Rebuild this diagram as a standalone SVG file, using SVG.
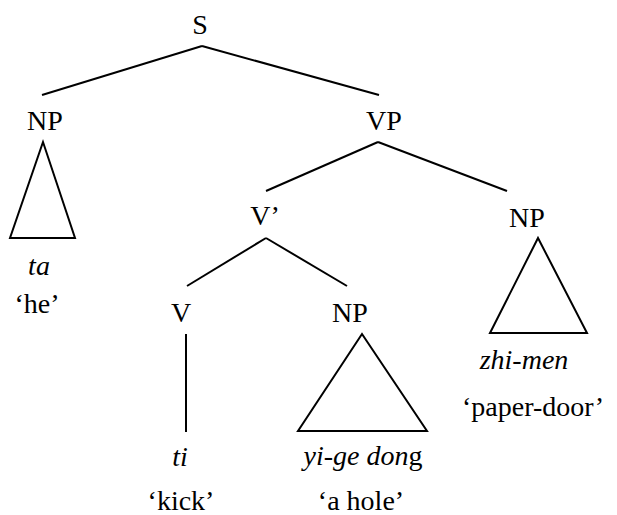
<svg xmlns="http://www.w3.org/2000/svg" width="617" height="515" viewBox="0 0 617 515">
<style>
text{font-family:"Liberation Serif","Times New Roman",serif;font-size:28px;fill:#000;text-anchor:middle}
.i{font-style:italic}
.e{stroke:#000;stroke-width:2;fill:none}
</style>
<rect width="617" height="515" fill="#fff"/>
<g id="connectors">
<line class="e" x1="202" y1="46" x2="42" y2="95"/>
<line class="e" x1="202" y1="46" x2="379" y2="95"/>
<line class="e" x1="378" y1="142" x2="266" y2="191"/>
<line class="e" x1="378" y1="142" x2="507" y2="191"/>
<line class="e" x1="266" y1="238" x2="187" y2="286"/>
<line class="e" x1="266" y1="238" x2="347" y2="286"/>
<line class="e" x1="186" y1="334" x2="186" y2="432"/>
<polygon class="e" points="43,142 10,238 75,238"/>
<polygon class="e" points="538,238 490,333 587,333"/>
<polygon class="e" points="362,334 298,431 427,431"/>
</g>
<g id="S"><text x="200" y="34">S</text></g>
<g id="NP1"><text x="45" y="130">NP</text></g>
<g id="VP"><text x="384" y="130">VP</text></g>
<g id="Vbar"><text x="265" y="225">V’</text></g>
<g id="NP2"><text x="527" y="227">NP</text></g>
<g id="ta"><text class="i" x="39" y="275">ta</text><text x="37" y="313">‘he’</text></g>
<g id="V"><text x="181" y="322">V</text></g>
<g id="NP3"><text x="350" y="322">NP</text></g>
<g id="zhimen"><text class="i" x="524" y="369">zhi-men</text><text x="533" y="416">‘paper-door’</text></g>
<g id="ti"><text class="i" x="180" y="466">ti</text><text x="181" y="510">‘kick’</text></g>
<g id="yigedong"><text x="363" y="465"><tspan class="i">yi-ge don</tspan>g</text><text x="361" y="510">‘a hole’</text></g>
</svg>
